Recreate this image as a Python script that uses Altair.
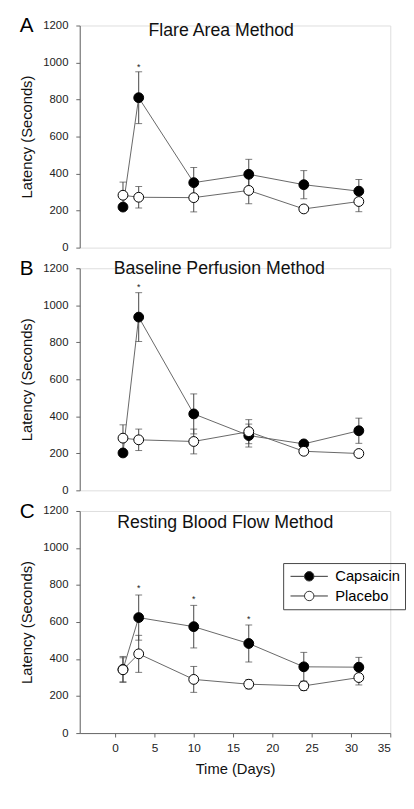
import altair as alt
import pandas as pd

days = [1, 3, 10, 17, 24, 31]
groups = ["Capsaicin", "Placebo"]
letters = ["A", "B", "C"]
methods = ["Flare Area Method", "Baseline Perfusion Method", "Resting Blood Flow Method"]

# Panel A - Flare Area Method
a_caps_mean = [219, 810, 351, 396, 340, 305]
a_caps_se = [0, 140, 82, 81, 76, 63]
a_plac_mean = [283, 272, 270, 309, 209, 249]
a_plac_se = [71, 58, 77, 72, 0, 55]
a_star_day = [3]
a_star_y = [993]

# Panel B - Baseline Perfusion Method
b_caps_mean = [202, 936, 413, 296, 251, 322]
b_caps_se = [0, 132, 108, 62, 0, 68]
b_plac_mean = [282, 273, 264, 317, 211, 199]
b_plac_se = [72, 58, 67, 65, 0, 0]
b_star_day = [3]
b_star_y = [1112]

# Panel C - Resting Blood Flow Method
c_caps_mean = [344, 624, 575, 484, 358, 356]
c_caps_se = [70, 122, 115, 100, 78, 53]
c_plac_mean = [342, 428, 290, 264, 255, 300]
c_plac_se = [65, 100, 70, 25, 25, 40]
c_star_day = [3, 10, 17]
c_star_y = [798, 740, 632]

x_ticks = [0, 5, 10, 15, 20, 25, 30, 35]
y_ticks = [0, 200, 400, 600, 800, 1000, 1200]

FONT = "Liberation Sans"
# line - circle - line legend glyph (unit 8px when symbolSize=256)
LEGEND_PATH = ("M-2.375,0L-0.6,0M0.6,0L2.375,0"
               "M0.6,0A0.6,0.6,0,1,1,-0.6,0A0.6,0.6,0,1,1,0.6,0Z")


def make_df(cm, cs, pm, ps):
    rows = []
    for g, means, ses in [("Capsaicin", cm, cs), ("Placebo", pm, ps)]:
        for d, m, s in zip(days, means, ses):
            rows.append({"day": d, "group": g, "mean": m, "lo": m - s, "hi": m + s})
    return pd.DataFrame(rows)


def panel(df, star_days, star_ys, letter, method, title_x, title_y, bottom, legend):
    xscale = alt.Scale(domain=[-4.5, 35], nice=False, zero=False)
    yscale = alt.Scale(domain=[0, 1200], nice=False)
    if bottom:
        xaxis = alt.Axis(values=x_ticks, title="Time (Days)", grid=False, format="d",
                         domainColor="#666", tickColor="#666", tickSize=4,
                         labelFont=FONT, labelFontSize=12, labelColor="#222",
                         labelPadding=6, labelOverlap=False,
                         titleFont=FONT, titleFontSize=15,
                         titleFontWeight="normal", titleColor="#111", titlePadding=8)
    else:
        xaxis = None
    yaxis = alt.Axis(values=y_ticks, title="Latency (Seconds)", grid=False, format="d",
                     domainColor="#666", tickColor="#666", tickSize=4,
                     labelFont=FONT, labelFontSize=11.5, labelColor="#222",
                     labelPadding=8, labelOverlap=False,
                     titleFont=FONT, titleFontSize=15,
                     titleFontWeight="normal", titleColor="#111", titlePadding=9)

    def X(f):
        return alt.X(f, type="quantitative", scale=xscale, axis=xaxis)

    def Y(f):
        return alt.Y(f, type="quantitative", scale=yscale, axis=yaxis)

    base = alt.Chart(df)
    rules = base.mark_rule(color="#444", strokeWidth=1).encode(
        x=X("day"), y=Y("lo"), y2="hi:Q")
    cap_hi = base.mark_tick(orient="horizontal", size=7, thickness=1, color="#444").encode(
        x=X("day"), y=Y("hi"))
    cap_lo = base.mark_tick(orient="horizontal", size=7, thickness=1, color="#444").encode(
        x=X("day"), y=Y("lo"))
    lines = base.mark_line(color="#666", strokeWidth=1).encode(
        x=X("day"), y=Y("mean"), detail="group:N")
    if legend:
        leg = alt.Legend(title=None, orient="none", legendX=207, legendY=53,
                         symbolType=LEGEND_PATH, symbolSize=256,
                         symbolStrokeColor="#333", symbolStrokeWidth=1,
                         symbolOffset=13,
                         labelFont=FONT, labelFontSize=15, labelColor="black",
                         labelOffset=18, strokeColor="#444", padding=5, rowPadding=3)
    else:
        leg = None
    points = base.mark_point(filled=False, size=100, shape="circle", opacity=1,
                             stroke="black", strokeWidth=1).encode(
        x=X("day"), y=Y("mean"),
        fill=alt.Fill("group:N", scale=alt.Scale(domain=groups, range=["black", "white"]),
                      legend=leg))
    sdf = pd.DataFrame({"day": star_days, "y": star_ys, "t": ["*"] * len(star_days)})
    stars = alt.Chart(sdf).mark_text(font=FONT, fontSize=9, color="#222",
                                     baseline="middle", dy=3).encode(
        x=X("day"), y=Y("y"), text="t:N")
    ldf = pd.DataFrame({"t": [letter]})
    let = alt.Chart(ldf).mark_text(font=FONT, fontSize=21, color="black",
                                   align="left", baseline="middle").encode(
        x=alt.value(-61), y=alt.value(1), text="t:N")
    tdf = pd.DataFrame({"t": [method]})
    ttl = alt.Chart(tdf).mark_text(font=FONT, fontSize=18, color="#111",
                                   align="center", baseline="alphabetic").encode(
        x=alt.value(title_x), y=alt.value(title_y), text="t:N")
    return alt.layer(rules, cap_hi, cap_lo, lines, points, stars, let, ttl).properties(
        width=316, height=226
    ).resolve_scale(fill="independent")


pa = panel(make_df(a_caps_mean, a_caps_se, a_plac_mean, a_plac_se), a_star_day, a_star_y,
           letters[0], methods[0], 144, 11, False, False)
pb = panel(make_df(b_caps_mean, b_caps_se, b_plac_mean, b_plac_se), b_star_day, b_star_y,
           letters[1], methods[1], 142, 6, False, False)
pc = panel(make_df(c_caps_mean, c_caps_se, c_plac_mean, c_plac_se), c_star_day, c_star_y,
           letters[2], methods[2], 148, 17, True, True)

chart = alt.vconcat(pa, pb, pc, spacing=21, bounds="flush").resolve_scale(
    x="independent", y="independent", fill="independent"
).resolve_legend(fill="independent").properties(
    padding={"left": 10, "top": 0, "right": 0, "bottom": 0}
).configure_view(stroke=None).configure(background="white")

chart.save("out.html", embed_options={"renderer": "svg", "actions": False})
